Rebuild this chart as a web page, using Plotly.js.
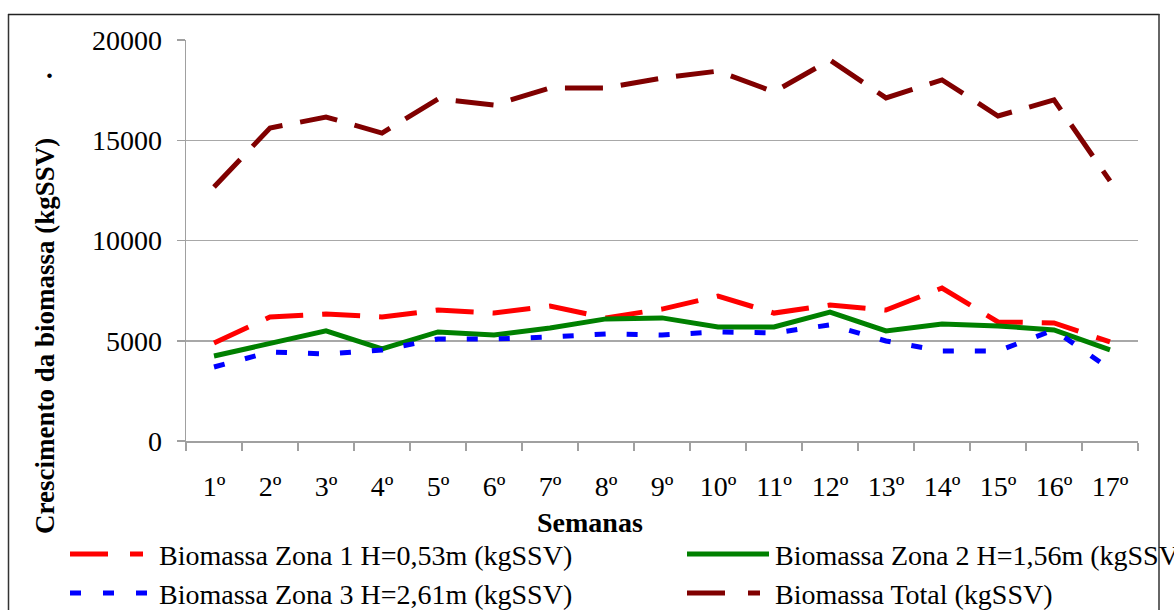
<!DOCTYPE html>
<html><head><meta charset="utf-8">
<script src="https://cdn.plot.ly/plotly-3.0.1.min.js"></script>
<style>html,body{margin:0;padding:0;background:#fff;}#chart{width:1174px;height:610px;}</style>
</head><body><div id="chart"></div>
<script>
// ---- data ----
const semanas = ['1º','2º','3º','4º','5º','6º','7º','8º','9º','10º','11º','12º','13º','14º','15º','16º','17º'];
const zona1 = [4890, 6190, 6330, 6190, 6530, 6380, 6730, 6140, 6580, 7230, 6380, 6780, 6530, 7630, 5940, 5890, 4940];
const zona2 = [4240, 4890, 5490, 4590, 5440, 5290, 5640, 6090, 6140, 5690, 5690, 6430, 5490, 5840, 5740, 5540, 4540];
const zona3 = [3690, 4440, 4340, 4540, 5090, 5090, 5190, 5340, 5290, 5440, 5390, 5790, 4990, 4490, 4490, 5540, 3590];
const total = [12670, 15610, 16160, 15360, 17060, 16760, 17610, 17610, 18100, 18450, 17410, 19000, 17110, 18010, 16210, 17010, 12970];
const seriesNames = ['Biomassa Zona 1 H=0,53m (kgSSV)', 'Biomassa Zona 2 H=1,56m (kgSSV)', 'Biomassa Zona 3 H=2,61m (kgSSV)', 'Biomassa Total (kgSSV)'];
const yTicks = [0, 5000, 10000, 15000, 20000];
const xTitle = 'Semanas';
const yTitle = 'Crescimento da biomassa (kgSSV)';

// ---- styles ----
const W = 1174, H = 610;
const L = 186, R = 36, T = 40, B = 169;
const pw = W - L - R, ph = H - T - B;
const px = v => (v - L) / pw;
const py = v => (H - B - v) / ph;
const FONT = 'Liberation Serif, Times New Roman, serif';

const styles = [
  {color: '#FF0000', dash: '38px,19px', legDash: '38px,22px'},
  {color: '#008000', dash: 'solid', legDash: 'solid'},
  {color: '#0000FF', dash: '11px,21px', legDash: '11px,22px'},
  {color: '#800000', dash: '38px,18px', legDash: '38px,23px'}
];
const values = [zona1, zona2, zona3, total];
const order = [3, 0, 1, 2];

const traces = order.map(i => ({
  type: 'scatter', mode: 'lines', x: semanas, y: values[i], name: seriesNames[i],
  line: {color: styles[i].color, width: 5, dash: styles[i].dash},
  showlegend: false, hoverinfo: 'skip'
}));

// legend (drawn manually to match long symbol lines)
const legPos = [
  {x0: 70, x1: 143, y: 554, tx: 157},
  {x0: 687, x1: 769, y: 554, tx: 773},
  {x0: 70, x1: 148, y: 593, tx: 157},
  {x0: 687, x1: 760, y: 593, tx: 773}
];
const shapes = [];
const annotations = [];
seriesNames.forEach((nm, i) => {
  const p = legPos[i];
  shapes.push({type: 'line', xref: 'paper', yref: 'paper', x0: px(p.x0), x1: px(p.x1), y0: py(p.y), y1: py(p.y),
    line: {color: styles[i].color, width: 5, dash: styles[i].legDash}});
  annotations.push({xref: 'paper', yref: 'paper', x: px(p.tx), y: py(p.y + 1), xanchor: 'left', yanchor: 'middle',
    text: nm, showarrow: false, font: {family: FONT, size: 28, color: '#000'}});
});
// outer frame
shapes.push({type: 'line', xref: 'paper', yref: 'paper', x0: px(8.5), x1: px(8.5), y0: py(14), y1: py(612), line: {color: '#333', width: 1.5}});
shapes.push({type: 'line', xref: 'paper', yref: 'paper', x0: px(8), x1: px(1159.5), y0: py(14.5), y1: py(14.5), line: {color: '#222', width: 1.5}});
shapes.push({type: 'line', xref: 'paper', yref: 'paper', x0: px(1159), x1: px(1159), y0: py(14), y1: py(612), line: {color: '#333', width: 1.5}});

annotations.push({xref: 'paper', yref: 'paper', x: px(45), y: py(336), textangle: -90, xanchor: 'center', yanchor: 'middle',
  text: '<b>' + yTitle + '</b>', showarrow: false, font: {family: FONT, size: 27, color: '#000'}});
annotations.push({xref: 'paper', yref: 'paper', x: px(49), y: py(68), xanchor: 'center', yanchor: 'middle',
  text: '<b>.</b>', showarrow: false, font: {family: FONT, size: 28, color: '#000'}});
annotations.push({xref: 'paper', yref: 'paper', x: px(590), y: py(522), xanchor: 'center', yanchor: 'middle',
  text: '<b>' + xTitle + '</b>', showarrow: false, font: {family: FONT, size: 28, color: '#000'}});

const layout = {
  width: W, height: H,
  margin: {l: L, r: R, t: T, b: B},
  paper_bgcolor: '#fff', plot_bgcolor: '#fff',
  showlegend: false,
  font: {family: FONT, size: 28, color: '#000'},
  xaxis: {
    type: 'category', range: [-0.5, 16.5], tickson: 'boundaries',
    ticks: 'outside', ticklen: 8, tickcolor: '#a0a0a0', tickwidth: 1.5,
    showline: true, linecolor: '#a0a0a0', linewidth: 1.5,
    showgrid: false, zeroline: false,
    tickfont: {family: FONT, size: 28, color: '#000'},
    ticklabelstandoff: 20, fixedrange: true
  },
  yaxis: {
    range: [0, 20000], tickvals: yTicks, ticktext: yTicks.map(String),
    ticks: 'outside', ticklen: 8, tickcolor: '#a0a0a0', tickwidth: 1.5,
    showline: true, linecolor: '#a0a0a0', linewidth: 1.5,
    showgrid: true, gridcolor: '#a8a8a8', gridwidth: 1.5, zeroline: false,
    tickfont: {family: FONT, size: 28, color: '#000'},
    ticklabelstandoff: 9, fixedrange: true
  },
  shapes: shapes,
  annotations: annotations
};

Plotly.newPlot('chart', traces, layout, {displayModeBar: false, staticPlot: true});
</script>
</body></html>
